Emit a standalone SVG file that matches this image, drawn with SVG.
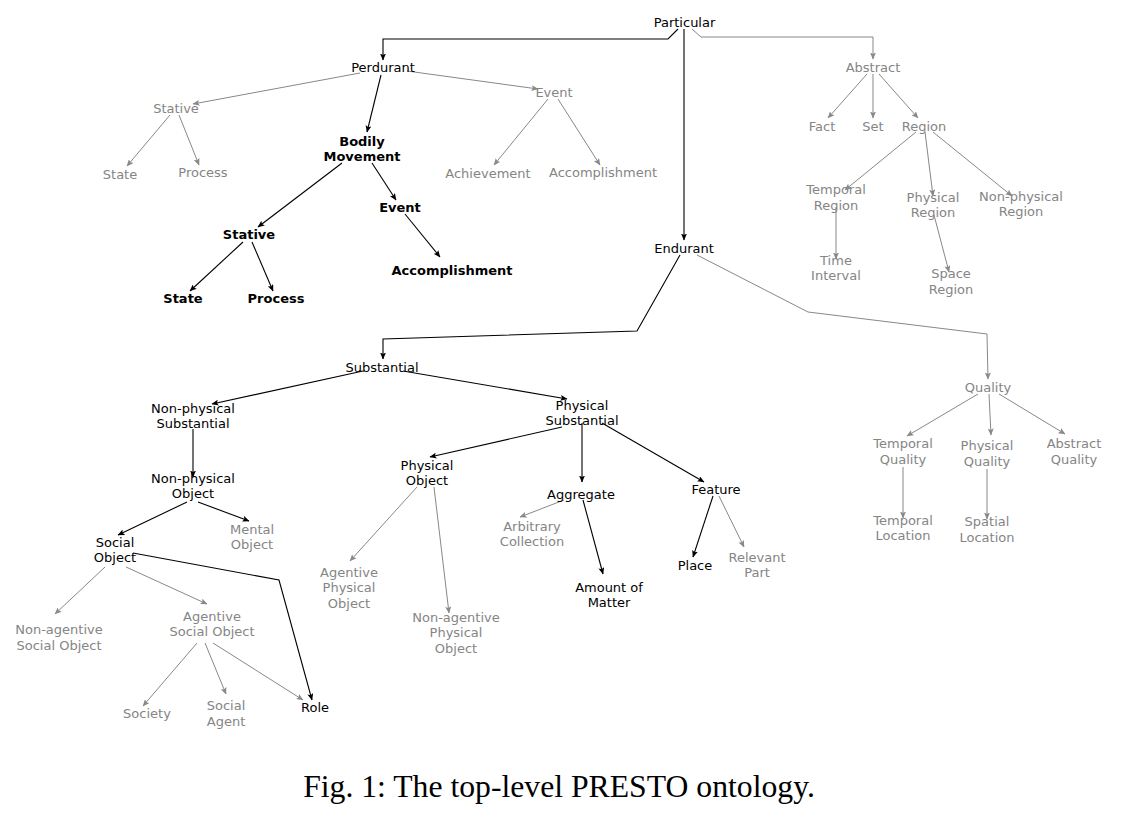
<svg xmlns="http://www.w3.org/2000/svg" width="1123" height="822" viewBox="0 0 1123 822">
<defs>
<marker id="ab" markerWidth="7" markerHeight="6" refX="6.5" refY="3" orient="auto" markerUnits="userSpaceOnUse"><path d="M0,0 L7,3 L0,6 L1.5,3 Z" fill="#000"/></marker>
<marker id="ag" markerWidth="7" markerHeight="6" refX="6.5" refY="3" orient="auto" markerUnits="userSpaceOnUse"><path d="M0,0 L7,3 L0,6 L1.5,3 Z" fill="#888"/></marker>
</defs>
<style>
text{font-family:"DejaVu Sans",sans-serif;font-size:13px;text-anchor:middle}
.k{fill:#000}
.g{fill:#858585}
.b{fill:#000;font-weight:bold}
.cap{font-family:"Liberation Serif","Times New Roman",serif;font-size:31.7px;fill:#000}
.eb{fill:none;stroke:#000;stroke-width:1.1;marker-end:url(#ab)}
.eg{fill:none;stroke:#888;stroke-width:1;marker-end:url(#ag)}
</style>
<rect width="1123" height="822" fill="#fff"/>
<g id="connectors">
<polyline class="eb" points="678,29 668,39 383,39 383,60"/>
<line class="eb" x1="684" y1="29" x2="684" y2="240"/>
<polyline class="eg" points="692,29 701,37 873,37 873,59"/>
<line class="eg" x1="360" y1="73" x2="193" y2="104"/>
<line class="eg" x1="407" y1="71" x2="538" y2="89"/>
<line class="eb" x1="381" y1="75" x2="367" y2="132"/>
<line class="eg" x1="170" y1="115" x2="127" y2="166"/>
<line class="eg" x1="179" y1="115" x2="199" y2="165"/>
<line class="eg" x1="548" y1="99" x2="494" y2="165"/>
<line class="eg" x1="558" y1="99" x2="600" y2="165"/>
<line class="eb" x1="342" y1="163" x2="258" y2="227"/>
<line class="eb" x1="372" y1="163" x2="396" y2="200"/>
<line class="eb" x1="405" y1="214" x2="440" y2="257"/>
<line class="eb" x1="243" y1="242" x2="190" y2="291"/>
<line class="eb" x1="252" y1="242" x2="273" y2="291"/>
<line class="eg" x1="867" y1="74" x2="828" y2="118"/>
<line class="eg" x1="873" y1="74" x2="873" y2="118"/>
<line class="eg" x1="879" y1="74" x2="918" y2="118"/>
<line class="eg" x1="916" y1="132" x2="845" y2="190"/>
<line class="eg" x1="925" y1="132" x2="933" y2="196"/>
<line class="eg" x1="933" y1="132" x2="1012" y2="196"/>
<line class="eg" x1="836" y1="207" x2="836" y2="259"/>
<line class="eg" x1="934" y1="215" x2="949" y2="272"/>
<polyline class="eb" points="680,255 637,331 383,339 383,359"/>
<polyline class="eg" points="697,255 808,312 987,334 988,379"/>
<line class="eb" x1="363" y1="371" x2="212" y2="404"/>
<line class="eb" x1="403" y1="371" x2="567" y2="399"/>
<line class="eb" x1="193" y1="429" x2="193" y2="477"/>
<line class="eb" x1="562" y1="427" x2="430" y2="457"/>
<line class="eb" x1="582" y1="423" x2="582" y2="482"/>
<line class="eb" x1="602" y1="423" x2="704" y2="482"/>
<line class="eb" x1="198" y1="502" x2="249" y2="521"/>
<line class="eb" x1="187" y1="502" x2="118" y2="535"/>
<polyline class="eb" points="133,553 279,580 312,700"/>
<line class="eg" x1="105" y1="567" x2="55" y2="614"/>
<line class="eg" x1="126" y1="567" x2="207" y2="604"/>
<line class="eg" x1="197" y1="643" x2="143" y2="706"/>
<line class="eg" x1="205" y1="643" x2="226" y2="694"/>
<line class="eg" x1="213" y1="643" x2="303" y2="700"/>
<line class="eg" x1="417" y1="487" x2="350" y2="561"/>
<line class="eg" x1="434" y1="487" x2="449" y2="613"/>
<line class="eg" x1="564" y1="500" x2="520" y2="517"/>
<line class="eb" x1="583" y1="500" x2="603" y2="574"/>
<line class="eb" x1="713" y1="496" x2="693" y2="557"/>
<line class="eg" x1="719" y1="496" x2="744" y2="547"/>
<line class="eg" x1="978" y1="394" x2="907" y2="436"/>
<line class="eg" x1="989" y1="394" x2="991" y2="435"/>
<line class="eg" x1="999" y1="394" x2="1065" y2="434"/>
<line class="eg" x1="903" y1="467" x2="903" y2="518"/>
<line class="eg" x1="987" y1="469" x2="987" y2="519"/>
</g>
<g id="particular"><text class="k" x="684.5" y="27">Particular</text></g>
<g id="perdurant"><text class="k" x="383" y="72">Perdurant</text></g>
<g id="stative-g"><text class="g" x="176" y="113">Stative</text></g>
<g id="state-g"><text class="g" x="120" y="179">State</text></g>
<g id="process-g"><text class="g" x="203" y="177">Process</text></g>
<g id="event-g"><text class="g" x="554" y="97">Event</text></g>
<g id="achievement"><text class="g" x="488" y="178">Achievement</text></g>
<g id="accomplishment-g"><text class="g" x="603" y="177">Accomplishment</text></g>
<g id="bodily-movement"><text class="b" x="362" y="146">Bodily</text><text class="b" x="362" y="161">Movement</text></g>
<g id="event-b"><text class="b" x="400" y="212">Event</text></g>
<g id="stative-b"><text class="b" x="249" y="239">Stative</text></g>
<g id="state-b"><text class="b" x="183" y="303">State</text></g>
<g id="process-b"><text class="b" x="276" y="303">Process</text></g>
<g id="accomplishment-b"><text class="b" x="452" y="275">Accomplishment</text></g>
<g id="abstract"><text class="g" x="873" y="72">Abstract</text></g>
<g id="fact"><text class="g" x="822" y="131">Fact</text></g>
<g id="set"><text class="g" x="873" y="131">Set</text></g>
<g id="region"><text class="g" x="924" y="131">Region</text></g>
<g id="temporal-region"><text class="g" x="836" y="194">Temporal</text><text class="g" x="836" y="210">Region</text></g>
<g id="physical-region"><text class="g" x="933" y="202">Physical</text><text class="g" x="933" y="217">Region</text></g>
<g id="nonphysical-region"><text class="g" x="1021" y="201">Non-physical</text><text class="g" x="1021" y="216">Region</text></g>
<g id="time-interval"><text class="g" x="836" y="265">Time</text><text class="g" x="836" y="280">Interval</text></g>
<g id="space-region"><text class="g" x="951" y="278">Space</text><text class="g" x="951" y="294">Region</text></g>
<g id="endurant"><text class="k" x="684" y="253">Endurant</text></g>
<g id="substantial"><text class="k" x="382" y="372">Substantial</text></g>
<g id="nonphysical-substantial"><text class="k" x="193" y="413">Non-physical</text><text class="k" x="193" y="428">Substantial</text></g>
<g id="physical-substantial"><text class="k" x="582" y="410">Physical</text><text class="k" x="582" y="425">Substantial</text></g>
<g id="nonphysical-object"><text class="k" x="193" y="483">Non-physical</text><text class="k" x="193" y="498">Object</text></g>
<g id="mental-object"><text class="g" x="252" y="534">Mental</text><text class="g" x="252" y="549">Object</text></g>
<g id="social-object"><text class="k" x="115" y="547">Social</text><text class="k" x="115" y="562">Object</text></g>
<g id="nonagentive-social-object"><text class="g" x="59" y="634">Non-agentive</text><text class="g" x="59" y="650">Social Object</text></g>
<g id="agentive-social-object"><text class="g" x="212" y="621">Agentive</text><text class="g" x="212" y="636">Social Object</text></g>
<g id="society"><text class="g" x="147" y="718">Society</text></g>
<g id="social-agent"><text class="g" x="226" y="710">Social</text><text class="g" x="226" y="726">Agent</text></g>
<g id="role"><text class="k" x="315" y="712">Role</text></g>
<g id="physical-object"><text class="k" x="427" y="470">Physical</text><text class="k" x="427" y="485">Object</text></g>
<g id="agentive-physical-object"><text class="g" x="349" y="577">Agentive</text><text class="g" x="349" y="592">Physical</text><text class="g" x="349" y="608">Object</text></g>
<g id="nonagentive-physical-object"><text class="g" x="456" y="622">Non-agentive</text><text class="g" x="456" y="637">Physical</text><text class="g" x="456" y="653">Object</text></g>
<g id="aggregate"><text class="k" x="581" y="499">Aggregate</text></g>
<g id="arbitrary-collection"><text class="g" x="532" y="531">Arbitrary</text><text class="g" x="532" y="546">Collection</text></g>
<g id="amount-of-matter"><text class="k" x="609" y="592">Amount of</text><text class="k" x="609" y="607">Matter</text></g>
<g id="feature"><text class="k" x="716" y="494">Feature</text></g>
<g id="place"><text class="k" x="695" y="570">Place</text></g>
<g id="relevant-part"><text class="g" x="757" y="562">Relevant</text><text class="g" x="757" y="577">Part</text></g>
<g id="quality"><text class="g" x="988" y="392">Quality</text></g>
<g id="temporal-quality"><text class="g" x="903" y="448">Temporal</text><text class="g" x="903" y="464">Quality</text></g>
<g id="physical-quality"><text class="g" x="987" y="450">Physical</text><text class="g" x="987" y="466">Quality</text></g>
<g id="abstract-quality"><text class="g" x="1074" y="448">Abstract</text><text class="g" x="1074" y="464">Quality</text></g>
<g id="temporal-location"><text class="g" x="903" y="525">Temporal</text><text class="g" x="903" y="540">Location</text></g>
<g id="spatial-location"><text class="g" x="987" y="526">Spatial</text><text class="g" x="987" y="542">Location</text></g>
<g id="caption"><text class="cap" x="559" y="797">Fig. 1: The top-level PRESTO ontology.</text></g>
</svg>
